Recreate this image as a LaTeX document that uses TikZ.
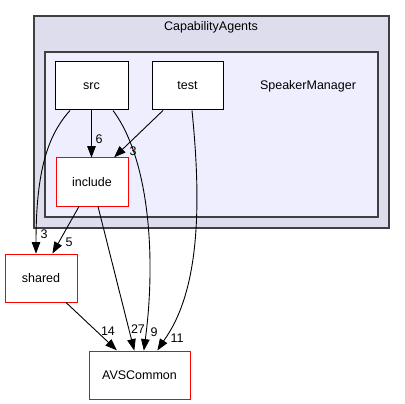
\documentclass[tikz,border=0pt]{standalone}
\usepackage{fontspec}
\setmainfont{Liberation Sans}
\usetikzlibrary{calc}
\definecolor{outerfill}{HTML}{DDDDEE}
\definecolor{innerfill}{HTML}{EEEEFF}
\definecolor{clusterline}{HTML}{404040}
% #1 base name, #2 tip end coordinate, #3 coordinate the tip points away from
\newcommand{\deptip}[3]{%
  \coordinate (#1) at ($(#2)!10pt!(#3)$);
  \coordinate (#1l) at ($(#1)!3.8pt!90:(#2)$);
  \coordinate (#1r) at ($(#1)!3.8pt!-90:(#2)$);
  \filldraw[black,line width=0.8pt,line join=miter] (#2) -- (#1l) -- (#1r) -- (#2) -- (#1l);}
\begin{document}
\begin{tikzpicture}[x=1pt,y=1pt,
  font=\fontsize{12.5}{15}\selectfont,
  dirbox/.style={draw=black,fill=white,line width=1pt,minimum height=48pt,inner sep=0pt},
  reddir/.style={draw=red,fill=white,line width=1pt,minimum height=48pt,inner sep=0pt},
  dep/.style={draw=black,line width=0.9pt},
  lbl/.style={inner sep=0pt}]
\useasboundingbox (0,0) rectangle (405,-404);
\fill[white] (0,0) rectangle (405,-404);
% clusters
\node[draw=clusterline,fill=outerfill,line width=1.3pt,minimum width=355pt,minimum height=212pt,inner sep=0pt] (capag) at (211.5,-122) {};
\node (capaglabel) at (211,-27) {CapabilityAgents};
\node[draw=clusterline,fill=innerfill,line width=1.3pt,minimum width=333pt,minimum height=165pt,inner sep=0pt] (spkm) at (211.5,-134.5) {};
\node (spkmlabel) at (308,-86) {SpeakerManager};
% nodes
\node[dirbox,minimum width=73pt] (src) at (91.5,-86) {src};
\node[dirbox,minimum width=71pt] (test) at (187.5,-86) {test};
\node[reddir,minimum width=72pt] (include) at (92,-182) {include};
\node[reddir,minimum width=72pt] (shared) at (41,-278) {shared};
\node[reddir,minimum width=101pt] (avs) at (139.5,-375) {AVSCommon};
% connector end points
\coordinate (s1) at (src.south);
\coordinate (t1) at ([yshift=1pt]src.south |- include.north);
\coordinate (s2) at ([xshift=-24.5pt]test.south);
\coordinate (t2) at ([xshift=23pt,yshift=1pt]include.north);
\coordinate (s3) at ([xshift=-21.5pt]src.south);
\coordinate (t3) at ([xshift=-5pt,yshift=1pt]shared.north);
\coordinate (s4) at ([xshift=-13pt]include.south);
\coordinate (t4) at ([xshift=12pt,yshift=1pt]shared.north);
\coordinate (s5) at ([xshift=6pt]include.south);
\coordinate (t5) at ([xshift=-5.5pt,yshift=1pt]avs.north);
\coordinate (s6) at ([xshift=21.5pt]src.south);
\coordinate (t6) at ([xshift=4.5pt,yshift=1pt]avs.north);
\coordinate (s7) at ([xshift=4.5pt]test.south);
\coordinate (t7) at ([xshift=18.5pt,yshift=1pt]avs.north);
\coordinate (s8) at ([xshift=25pt]shared.south);
\coordinate (t8) at ([xshift=-23.5pt,yshift=1pt]avs.north);
% src -> include
\deptip{b1}{t1}{s1}
\draw[dep,line width=1.4pt] (s1) -- (b1);
\node[lbl] (l6) at (99,-139) {6};
% test -> include
\deptip{b2}{t2}{s2}
\draw[dep] (s2) -- (b2);
\node[lbl] (l3a) at (133,-151) {3};
% src -> shared
\deptip{b3}{t3}{36,-180}
\draw[dep] (s3) .. controls (48,-135) and (36,-170) .. (b3);
\node[lbl] (l3b) at (44,-234) {3};
% include -> shared
\deptip{b4}{t4}{s4}
\draw[dep] (s4) -- (b4);
\node[lbl] (l5) at (69,-242) {5};
% include -> AVSCommon
\deptip{b5}{t5}{s5}
\draw[dep] (s5) -- (b5);
\node[lbl] (l27) at (138,-329) {27};
% src -> AVSCommon
\deptip{b6}{t6}{153,-280}
\draw[dep] (s6) .. controls (150,-160) and (156,-260) .. (b6);
\node[lbl] (l9) at (154,-332) {9};
% test -> AVSCommon
\deptip{b7}{t7}{190,-300}
\draw[dep] (s7) .. controls (201,-200) and (201,-290) .. (b7);
\node[lbl] (l11) at (177,-338) {11};
% shared -> AVSCommon
\deptip{b8}{t8}{s8}
\draw[dep] (s8) -- (b8);
\node[lbl] (l14) at (108,-331) {14};
\end{tikzpicture}
\end{document}
